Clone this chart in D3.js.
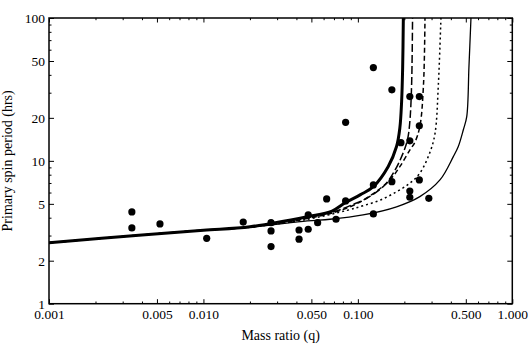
<!doctype html>
<html>
<head>
<meta charset="utf-8"/>
<script src="https://cdn.jsdelivr.net/npm/d3@7"></script>
<style>
body{margin:0;background:#fff;}
text{font-family:"Liberation Serif","Times New Roman",serif;fill:#000;}
</style>
</head>
<body>
<script>
// axis ticks
var qTicks=[0.001,0.005,0.01,0.05,0.1,0.5,1];
var qTickLabels=["0.001","0.005","0.010","0.050","0.100","0.500","1.000"];
var qMinor=[0.002,0.003,0.004,0.006,0.007,0.008,0.009,0.02,0.03,0.04,0.06,0.07,0.08,0.09,0.2,0.3,0.4,0.6,0.7,0.8,0.9];
var pTicks=[1,2,5,10,20,50,100];
var pMinor=[3,4,6,7,8,9,30,40,60,70,80,90];

// observed binaries
var obsQ=[0.00344,0.00344,0.00523,0.0105,0.0181,0.0274,0.0274,0.0274,0.0416,0.0416,0.0477,0.0477,0.0549,0.0628,0.0722,0.0833,0.0833,0.126,0.126,0.126,0.166,0.166,0.190,0.217,0.217,0.217,0.217,0.250,0.250,0.250,0.288];
var obsP=[4.39,3.39,3.62,2.87,3.73,3.69,3.23,2.51,3.28,2.83,4.18,3.32,3.69,5.41,3.90,18.6,5.24,45,6.78,4.25,31.4,7.15,13.4,28.2,13.8,6.15,5.56,28.2,17.6,7.35,5.47];

// model curves
var thickQ=[0.001,0.004,0.01,0.02,0.047,0.068,0.083,0.104,0.126,0.157,0.178,0.187,0.192,0.195,0.197];
var thickP=[2.67,3.03,3.27,3.46,4.07,4.45,5.1,5.8,6.6,9.1,12.6,17,26,45,100];
var longQ=[0.001,0.004,0.01,0.02,0.047,0.07,0.093,0.119,0.150,0.174,0.192,0.205,0.212,0.218,0.223,0.226];
var longP=[2.67,3.03,3.27,3.45,4.0,4.4,4.95,5.62,6.8,8.6,10.7,12.9,15,20,35,100];
var medQ=[0.001,0.004,0.01,0.02,0.047,0.07,0.098,0.126,0.161,0.187,0.217,0.234,0.252,0.266,0.272];
var medP=[2.67,3.03,3.27,3.44,3.95,4.35,5.0,5.9,7.35,9.1,11.9,13.5,17.4,34,100];
var dotQ=[0.001,0.004,0.01,0.02,0.047,0.085,0.108,0.139,0.178,0.217,0.252,0.293,0.316,0.332,0.345];
var dotP=[2.67,3.03,3.27,3.43,3.9,4.5,4.85,5.3,6.08,6.97,8.2,11.5,15.6,34,100];
var thinQ=[0.001,0.004,0.01,0.02,0.047,0.066,0.108,0.178,0.252,0.340,0.415,0.447,0.482,0.507,0.524,0.54];
var thinP=[2.67,3.03,3.27,3.42,3.8,3.9,4.18,4.77,5.62,7.35,10.7,12.6,16.5,20.4,45.7,100];

var width=528,height=347;
var mLeft=49,mRight=512.3,mTop=18,mBottom=303.7;

var svg=d3.select("body").append("svg").attr("width",width).attr("height",height);
var x=d3.scaleLog().domain([0.001,1]).range([mLeft,mRight]);
var y=d3.scaleLog().domain([1,100]).range([mBottom,mTop]);

svg.append("defs").append("clipPath").attr("id","plot")
  .append("rect").attr("x",mLeft).attr("y",mTop).attr("width",mRight-mLeft).attr("height",mBottom-mTop);

// curves
function curve(qs,ps,w,dash){
  var pts=qs.map(function(q,i){return [q,ps[i]];});
  var line=d3.line().x(function(d){return x(d[0]);}).y(function(d){return y(d[1]);})
    .curve(d3.curveCatmullRom.alpha(0.5));
  svg.append("path").datum(pts).attr("d",line).attr("clip-path","url(#plot)")
    .attr("fill","none").attr("stroke","#000").attr("stroke-width",w)
    .attr("stroke-dasharray",dash);
}
curve(thinQ,thinP,1.3,null);
curve(dotQ,dotP,1.5,"2,3");
curve(medQ,medP,1.5,"5,3");
curve(longQ,longP,1.5,"8,3");
curve(thickQ,thickP,3,null);

// points
svg.selectAll("circle.obs").data(obsQ).enter().append("circle").attr("class","obs")
  .attr("cx",function(d){return x(d);})
  .attr("cy",function(d,i){return y(obsP[i]);})
  .attr("r",3.6).attr("fill","#000");

// axes
function style(g){g.select(".domain").remove();g.selectAll("line").attr("stroke","#000").attr("stroke-width",1);
  g.selectAll("text").style("font-size","13.5px").attr("font-family",null);}
svg.append("g").attr("transform","translate(0,"+mBottom+")")
  .call(d3.axisBottom(x).tickValues(qTicks).tickSize(-4.5).tickPadding(5.5).tickFormat(function(d,i){return qTickLabels[i];})).call(style);
svg.append("g").attr("transform","translate(0,"+mBottom+")")
  .call(d3.axisBottom(x).tickValues(qMinor).tickSize(-2.2).tickFormat("")).call(style);
svg.append("g").attr("transform","translate(0,"+mTop+")")
  .call(d3.axisTop(x).tickValues(qTicks).tickSize(-4.5).tickFormat("")).call(style);
svg.append("g").attr("transform","translate(0,"+mTop+")")
  .call(d3.axisTop(x).tickValues(qMinor).tickSize(-2.2).tickFormat("")).call(style);
svg.append("g").attr("transform","translate("+mLeft+",0)")
  .call(d3.axisLeft(y).tickValues(pTicks).tickSize(-5).tickPadding(4).tickFormat(d3.format("d"))).call(style);
svg.append("g").attr("transform","translate("+mLeft+",0)")
  .call(d3.axisLeft(y).tickValues(pMinor).tickSize(-2.5).tickFormat("")).call(style);
svg.append("g").attr("transform","translate("+mRight+",0)")
  .call(d3.axisRight(y).tickValues(pTicks).tickSize(-5).tickFormat("")).call(style);
svg.append("g").attr("transform","translate("+mRight+",0)")
  .call(d3.axisRight(y).tickValues(pMinor).tickSize(-2.5).tickFormat("")).call(style);

svg.append("rect").attr("x",mLeft).attr("y",mTop).attr("width",mRight-mLeft).attr("height",mBottom-mTop)
  .attr("fill","none").attr("stroke","#000").attr("stroke-width",1.5);

// titles
svg.append("text").attr("x",(mLeft+mRight)/2).attr("y",340).attr("text-anchor","middle")
  .style("font-size","14px").text("Mass ratio (q)");
svg.append("text").attr("transform","translate(12,"+((mTop+mBottom)/2)+") rotate(-90)")
  .attr("text-anchor","middle").style("font-size","14px").text("Primary spin period (hrs)");
</script>
</body>
</html>
